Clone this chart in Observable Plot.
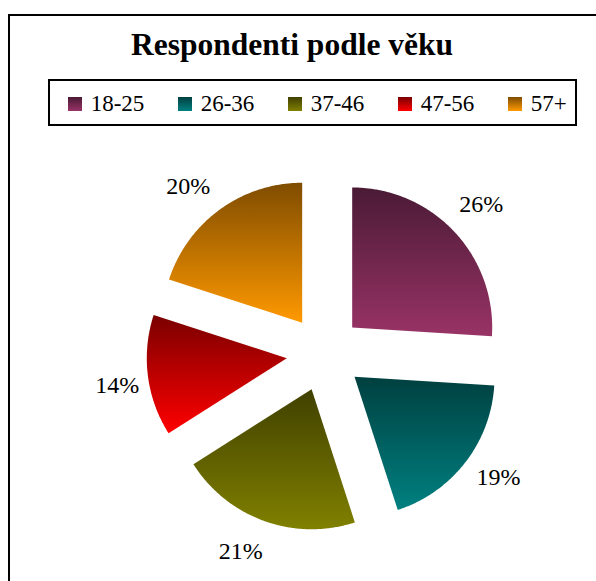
<!DOCTYPE html>
<html>
<head>
<meta charset="utf-8">
<script src="https://cdn.jsdelivr.net/npm/d3@7"></script>
<script src="https://cdn.jsdelivr.net/npm/@observablehq/plot@0.6"></script>
<style>
  html, body { margin: 0; padding: 0; background: #fff; }
  #wrap { position: relative; width: 596px; height: 581px; overflow: hidden; font-family: 'Liberation Serif', 'Times New Roman', serif; }
  #wrap svg { position: absolute; left: 0; top: 0; }
  #wrap svg text { font-family: 'Liberation Serif', 'Times New Roman', serif !important; }
  #frame { position: absolute; left: 8px; top: 14px; width: 700px; height: 700px; border: 2px solid #000; box-sizing: border-box; pointer-events: none; }
  #title { position: absolute; left: 0; top: 29px; width: 584px; text-align: center; font-family: 'Liberation Serif', 'Times New Roman', serif; font-size: 31.5px; font-weight: bold; line-height: 1; white-space: nowrap; }
  #legend { position: absolute; left: 48px; top: 79px; width: 529px; height: 47px; border: 2px solid #000; box-sizing: border-box; }
  .sw { position: absolute; width: 14px; height: 14px; top: 16px; }
  .lt { position: absolute; top: 11px; font-family: 'Liberation Serif', 'Times New Roman', serif; font-size: 23px; line-height: 1; white-space: nowrap; }
</style>
</head>
<body>
<div id="wrap"></div>
<script>
// ---- data ----
const title = "Respondenti podle věku";
const categories = ["18-25", "26-36", "37-46", "47-56", "57+"];
const shares = [26, 19, 21, 14, 20];
const percentLabels = ["26%", "19%", "21%", "14%", "20%"];
const lightColors = ["#993366", "#008080", "#808000", "#ff0000", "#ff9900"];
const darkColors = ["#4a1a35", "#004040", "#404000", "#7a0000", "#7f4c00"];

// ---- layout ----
const W = 596, H = 581;
const cx = 324, cy = 353, R = 140;     // pie centre and radius in pixels
const explode = 38 / R;                // slice offset, in radius units
const labelR = 215 / R;                // label distance, in radius units
const labelNudge = [[0, -2], [4, -8], [-11, -4], [6, 5], [-10, 7]]; // label fine-tuning, px
const serif = "'Liberation Serif', 'Times New Roman', serif";

const total = d3.sum(shares);
let acc = 0;
const slices = categories.map((cat, i) => {
  const a0 = acc / total * 2 * Math.PI;
  acc += shares[i];
  const a1 = acc / total * 2 * Math.PI;
  const mid = (a0 + a1) / 2;
  const ox = explode * Math.sin(mid), oy = explode * Math.cos(mid);
  const pts = [{x: ox, y: oy}];
  const steps = Math.ceil((a1 - a0) / (Math.PI / 360));
  for (let k = 0; k <= steps; k++) {
    const a = a0 + (a1 - a0) * k / steps;
    pts.push({x: ox + Math.sin(a), y: oy + Math.cos(a)});
  }
  return {cat, pts, mid, label: percentLabels[i]};
});
const labelData = slices.map(s => ({x: labelR * Math.sin(s.mid), y: labelR * Math.cos(s.mid), text: s.label}));

const chart = Plot.plot({
  width: W, height: H,
  margin: 0,
  style: {background: "none", overflow: "visible", fontFamily: serif},
  x: {domain: [-cx / R, (W - cx) / R], axis: null},
  y: {domain: [-(H - cy) / R, cy / R], axis: null},
  marks: [
    ...slices.map((s, i) => Plot.line(s.pts, {x: "x", y: "y", curve: "linear-closed", fill: `url(#grad${i})`, stroke: "none"})),
    ...labelData.map((d, i) => Plot.text([d], {x: "x", y: "y", text: "text", dx: labelNudge[i][0], dy: labelNudge[i][1], fontSize: 24, fontFamily: serif, fill: "#000"}))
  ]
});

const defs = d3.select(chart).insert("defs", ":first-child");
categories.forEach((c, i) => {
  const g = defs.append("linearGradient").attr("id", `grad${i}`).attr("x1", 0).attr("y1", 0).attr("x2", 0).attr("y2", 1);
  g.append("stop").attr("offset", "0%").attr("stop-color", darkColors[i]);
  g.append("stop").attr("offset", "100%").attr("stop-color", lightColors[i]);
});

const wrap = document.getElementById("wrap");
wrap.appendChild(chart);

const frame = document.createElement("div");
frame.id = "frame";
wrap.appendChild(frame);

const t = document.createElement("div");
t.id = "title";
t.textContent = title;
wrap.appendChild(t);

const legend = document.createElement("div");
legend.id = "legend";
categories.forEach((c, i) => {
  const sw = document.createElement("div");
  sw.className = "sw";
  sw.style.left = (17.5 + 110 * i) + "px";
  sw.style.background = `linear-gradient(to bottom, ${darkColors[i]}, ${lightColors[i]})`;
  legend.appendChild(sw);
  const lt = document.createElement("div");
  lt.className = "lt";
  lt.style.left = (40.7 + 110 * i) + "px";
  lt.textContent = c;
  legend.appendChild(lt);
});
wrap.appendChild(legend);
</script>
</body>
</html>
